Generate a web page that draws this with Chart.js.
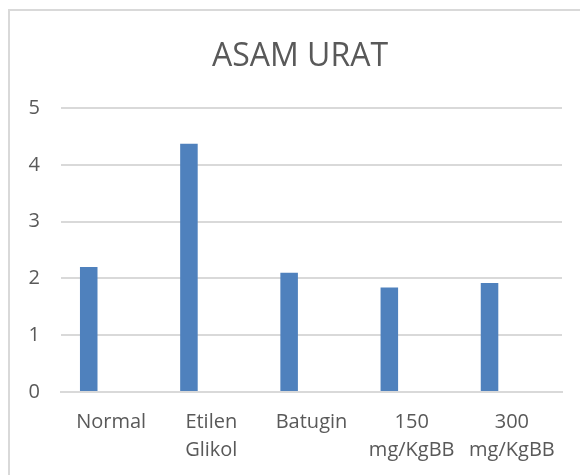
<!DOCTYPE html>
<html>
<head>
<meta charset="utf-8">
<title>ASAM URAT</title>
<script src="https://cdn.jsdelivr.net/npm/chart.js@4.4.1/dist/chart.umd.min.js"></script>
<style>
  html, body { margin: 0; padding: 0; background: #fff; overflow: hidden; }
  #frame {
    position: absolute; left: 8px; top: 9px;
    width: 600px; height: 500px;
    border: 2px solid #d9d9d9;
    pointer-events: none;
  }
  #chart { position: absolute; left: 0; top: 0; }
</style>
</head>
<body>
<div id="frame"></div>
<canvas id="chart" width="580" height="475"></canvas>
<script>
  // ======= Data =======
  const CATEGORIES = ["Normal", ["Etilen", "Glikol"], "Batugin", ["150", "mg/KgBB"], ["300", "mg/KgBB"]];
  const SERIES_1 = [2.2, 4.37, 2.1, 1.84, 1.92];
  const SERIES_2 = [null, null, null, null, null];   // empty second column in the source sheet
  const Y_MIN = 0, Y_MAX = 5, Y_STEP = 1;

  const TEXT = "#595959";
  const GRID = "#d9d9d9";
  const FONT = "'Open Sans', 'Liberation Sans', sans-serif";

  // Excel centres the title on the whole chart box, not on the padded area
  const nudgeTitle = {
    id: "nudgeTitle",
    afterLayout(chart) {
      const t = chart.titleBlock;
      if (t) { t.left += 6; t.right += 6; }
    }
  };

  const ctx = document.getElementById("chart").getContext("2d");
  new Chart(ctx, {
    type: "bar",
    data: {
      labels: CATEGORIES,
      datasets: [
        { label: "Series1", data: SERIES_1, backgroundColor: "#4f81bd", borderWidth: 0 },
        { label: "Series2", data: SERIES_2, backgroundColor: "#c0504d", borderWidth: 0 }
      ]
    },
    plugins: [nudgeTitle],
    options: {
      responsive: false,
      animation: false,
      categoryPercentage: 0.893,
      barPercentage: 0.392,
      layout: { padding: { left: 26, right: 18, top: 20, bottom: -5 } },
      plugins: {
        legend: { display: false },
        tooltip: { enabled: false },
        title: {
          display: true,
          text: "ASAM URAT",
          color: TEXT,
          font: { family: FONT, size: 32, weight: "normal", lineHeight: 1.2 },
          padding: { top: 18, bottom: 31.6 }
        }
      },
      scales: {
        x: {
          grid: { display: false, drawTicks: false },
          border: { display: true, color: GRID, width: 2 },
          ticks: {
            color: TEXT,
            padding: 16,
            maxRotation: 0,
            autoSkip: false,
            font: { family: FONT, size: 20, lineHeight: 1.4 }
          }
        },
        y: {
          min: Y_MIN,
          max: Y_MAX,
          afterFit: s => { s.width = 35; },
          grid: { color: GRID, lineWidth: 2, drawTicks: false },
          border: { display: false },
          ticks: {
            stepSize: Y_STEP,
            color: TEXT,
            padding: 21,
            font: { family: FONT, size: 20 }
          }
        }
      }
    }
  });
</script>
</body>
</html>
